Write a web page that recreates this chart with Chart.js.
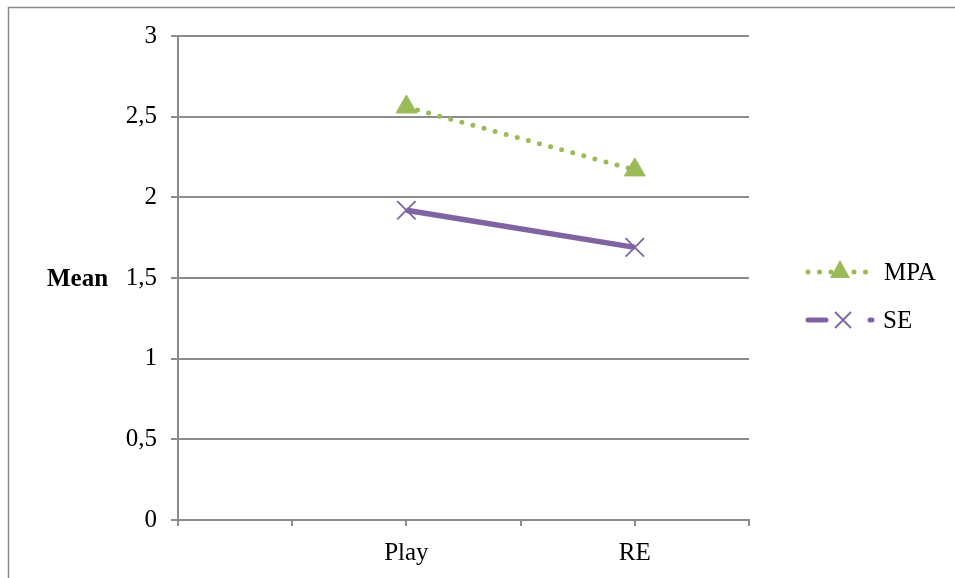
<!DOCTYPE html>
<html>
<head>
<meta charset="utf-8">
<script src="https://cdn.jsdelivr.net/npm/chart.js@4.4.1/dist/chart.umd.min.js"></script>
<style>
    html, body { margin: 0; padding: 0; background: #fff; }
    #wrap { width: 955px; height: 578px; position: relative; }
</style>
</head>
<body>
<div id="wrap"><canvas id="chart" width="955" height="578"></canvas></div>
<script>
// Category slots on the x axis (only Play and RE carry data)
const categories = ["", "", "Play", "", "RE", ""];
const mpaValues = [null, null, 2.56, null, 2.17, null];
const seValues = [null, null, 1.92, null, 1.69, null];
const yTicks = [0, 0.5, 1, 1.5, 2, 2.5, 3];

const green = "#9BBB59";
const purple = "#8064A2";
const gridGray = "#8c8c8c";
const serif = "'Liberation Serif', 'Times New Roman', serif";

// Draws the outer frame, the "Mean" label and the legend on the right
const extrasPlugin = {
    id: "extras",
    beforeDraw(chart) {
        const ctx = chart.ctx;
        ctx.save();
        ctx.strokeStyle = "#8a8a8a";
        ctx.lineWidth = 1.5;
        ctx.beginPath();
        ctx.moveTo(8.5, 578);
        ctx.lineTo(8.5, 7.5);
        ctx.lineTo(955, 7.5);
        ctx.stroke();
        ctx.restore();
    },
    afterDraw(chart) {
        const ctx = chart.ctx;
        const y = chart.scales.y;
        ctx.save();
        ctx.fillStyle = "#000";
        ctx.font = "bold 25px " + serif;
        ctx.textAlign = "left";
        ctx.textBaseline = "middle";
        ctx.fillText("Mean", 47, y.getPixelForValue(1.5) + 2);

        // legend: MPA
        const ly1 = 272, ly2 = 320;
        ctx.strokeStyle = green;
        ctx.lineWidth = 5;
        ctx.lineCap = "round";
        ctx.setLineDash([0, 11.5]);
        ctx.beginPath();
        ctx.moveTo(808, ly1);
        ctx.lineTo(870, ly1);
        ctx.stroke();
        ctx.setLineDash([]);
        ctx.fillStyle = green;
        ctx.beginPath();
        ctx.moveTo(840, ly1 - 12);
        ctx.lineTo(850, ly1 + 6);
        ctx.lineTo(830, ly1 + 6);
        ctx.closePath();
        ctx.fill();

        // legend: SE
        ctx.strokeStyle = purple;
        ctx.lineWidth = 5;
        ctx.beginPath();
        ctx.moveTo(808, ly2);
        ctx.lineTo(826, ly2);
        ctx.stroke();
        ctx.beginPath();
        ctx.moveTo(870, ly2);
        ctx.lineTo(872, ly2);
        ctx.stroke();
        ctx.lineWidth = 1.8;
        ctx.lineCap = "butt";
        ctx.beginPath();
        ctx.moveTo(835, ly2 - 8);
        ctx.lineTo(851, ly2 + 8);
        ctx.moveTo(851, ly2 - 8);
        ctx.lineTo(835, ly2 + 8);
        ctx.stroke();

        ctx.fillStyle = "#000";
        ctx.font = "25px " + serif;
        ctx.fillText("MPA", 884, ly1 + 1);
        ctx.fillText("SE", 883, ly2 + 1);
        ctx.restore();
    }
};

const ctx = document.getElementById("chart");

new Chart(ctx, {
    type: "line",
    data: {
        labels: categories,
        datasets: [
            {
                label: "MPA",
                data: mpaValues,
                spanGaps: true,
                borderColor: green,
                backgroundColor: green,
                borderWidth: 5,
                borderDash: [0, 11.5],
                borderCapStyle: "round",
                pointStyle: "triangle",
                pointRadius: 12,
                pointBorderWidth: 1,
                pointBackgroundColor: green,
                pointBorderColor: green,
                tension: 0
            },
            {
                label: "SE",
                data: seValues,
                spanGaps: true,
                borderColor: purple,
                backgroundColor: purple,
                borderWidth: 5.5,
                pointStyle: "crossRot",
                pointRadius: 13,
                pointBorderWidth: 1.8,
                pointBorderColor: purple,
                tension: 0
            }
        ]
    },
    options: {
        responsive: false,
        animation: false,
        devicePixelRatio: 1,
        layout: { padding: { left: 0, right: 206, top: 36, bottom: 0 } },
        plugins: {
            legend: { display: false },
            tooltip: { enabled: false }
        },
        scales: {
            x: {
                offset: false,
                afterFit: (scale) => { scale.height = 58; },
                grid: {
                    drawOnChartArea: false,
                    drawTicks: true,
                    tickLength: 6,
                    color: gridGray,
                    lineWidth: 2
                },
                border: { color: gridGray, width: 2 },
                ticks: {
                    color: "#000",
                    padding: 12,
                    autoSkip: false,
                    maxRotation: 0,
                    font: { family: serif, size: 25 }
                }
            },
            y: {
                min: 0,
                max: 3,
                afterFit: (scale) => { scale.width = 178; },
                afterBuildTicks: (scale) => {
                    scale.ticks = yTicks.map((v) => ({ value: v }));
                },
                grid: {
                    color: gridGray,
                    lineWidth: 2,
                    tickLength: 7
                },
                border: { color: gridGray, width: 2 },
                ticks: {
                    color: "#000",
                    padding: 14,
                    font: { family: serif, size: 25 },
                    callback: (v) => String(v).replace(".", ",")
                }
            }
        }
    },
    plugins: [extrasPlugin]
});
</script>
</body>
</html>
